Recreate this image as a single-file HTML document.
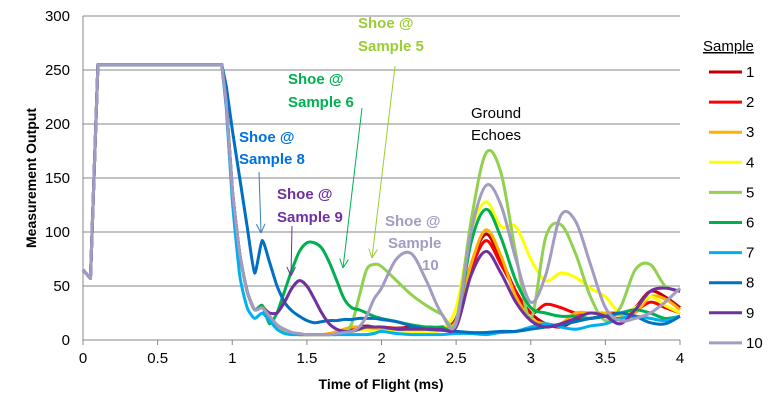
<!DOCTYPE html>
<html><head><meta charset="utf-8"><style>
body{margin:0;background:#fff;}
svg{font-family:"Liberation Sans",Calibri,sans-serif;display:block}
</style></head><body>
<svg id="chart" width="775" height="415" viewBox="0 0 775 415">
<g id="grid"></g><g id="axes"></g><g id="series"></g><g id="annot"></g><g id="legend"></g>
</svg>
<script>
const xs=[0,0.05,0.1,0.93,0.96,1.0,1.05,1.1,1.15,1.2,1.25,1.3,1.35,1.4,1.45,1.5,1.55,1.6,1.65,1.7,1.75,1.8,1.85,1.9,1.95,2.0,2.1,2.2,2.3,2.4,2.5,2.6,2.7,2.8,2.9,3.0,3.1,3.2,3.3,3.4,3.5,3.6,3.7,3.8,3.9,4.0];
const s1=[65,57,255,255,220,140,80,45,28,32,22,14,8,6,5,5,5,5,5,6,8,10,12,13,12,12,11,12,12,12,20,70,98,75,45,25,15,12,18,20,22,20,30,45,40,30];
const s2=[65,57,255,255,220,140,80,45,28,32,22,14,8,6,5,5,5,5,5,6,8,10,11,12,11,10,10,10,12,12,18,65,92,70,45,25,33,30,25,25,25,25,27,35,30,25];
const s3=[65,57,255,255,220,140,80,45,28,32,22,14,8,6,5,5,5,5,6,8,10,12,12,11,10,10,10,10,10,12,18,70,102,78,40,20,15,15,25,25,25,23,25,40,38,28];
const s4=[65,57,255,255,220,140,80,45,28,32,22,14,8,6,5,5,5,5,5,6,7,8,9,9,8,8,8,8,8,10,30,100,128,105,105,75,55,62,58,48,40,25,30,40,32,25];
const s5=[65,57,255,255,220,140,80,45,28,32,22,14,8,6,5,5,5,5,5,5,7,15,40,65,70,68,55,42,32,24,18,110,173,155,80,20,95,107,80,40,18,30,65,70,50,45];
const s6=[65,57,255,255,220,140,80,45,28,32,15,25,45,65,82,90,90,85,72,55,38,30,28,25,22,20,17,14,12,12,15,90,121,95,55,30,25,22,22,20,22,25,28,25,20,22];
const s7=[65,57,255,255,215,130,60,30,20,25,18,10,6,5,5,5,5,5,5,5,5,5,5,5,6,8,6,5,5,5,6,6,5,7,8,12,15,12,10,13,15,20,22,20,18,22];
const s8=[65,57,255,255,235,195,150,105,62,92,72,50,35,27,22,18,16,17,18,18,19,19,20,20,20,19,17,13,10,9,8,7,7,8,8,10,12,14,17,20,22,25,22,16,15,22];
const s9=[65,57,255,255,220,140,80,45,28,30,25,25,35,48,55,50,38,25,15,10,8,8,10,12,12,12,10,10,10,10,12,60,82,62,35,18,12,15,20,25,22,15,28,45,48,45];
const s10=[65,57,255,255,220,140,80,45,28,30,22,14,10,7,6,5,5,5,5,6,7,8,12,22,38,48,75,80,55,25,15,100,143,125,75,35,60,115,110,70,30,18,20,25,35,48];
const seriesVals=[s1,s2,s3,s4,s5,s6,s7,s8,s9,s10];
const seriesNames=["1","2","3","4","5","6","7","8","9","10"];
const colors=["#C00000","#FF0000","#FFB000","#FFFF00","#92D050","#00B050","#00B0F0","#0070C0","#7030A0","#A39CC2"];
const yTicks=[0,50,100,150,200,250,300];
const xTicks=[0,0.5,1,1.5,2,2.5,3,3.5,4];
const X0=83,X1=680,Y0=340,Y1=16;
const sx=t=>X0+(t/4)*(X1-X0);
const sy=v=>Y0-(v/300)*(Y0-Y1);
const NS="http://www.w3.org/2000/svg";
function mk(tag,attrs,parent,text){const e=document.createElementNS(NS,tag);for(const k in attrs)e.setAttribute(k,attrs[k]);if(text!==undefined)e.textContent=text;parent.appendChild(e);return e;}
const G=id=>document.getElementById(id);
yTicks.forEach(v=>{
 if(v>0){const l=mk('line',{x1:X0,x2:X1,y1:sy(v),y2:sy(v),stroke:'#878787','stroke-width':1},G('grid'));
 
 }
 const t=mk('text',{x:70,y:sy(v)+5,'text-anchor':'end','font-size':15,fill:'#000'},G('axes'),String(v));
 
 
});
const ax=mk('path',{d:`M${X0},${Y1}V${Y0}H${X1}`,stroke:'#878787',fill:'none'},G('axes'));


xTicks.forEach(v=>{
 mk('line',{x1:sx(v),x2:sx(v),y1:Y0,y2:Y0+5,stroke:'#878787'},G('axes'));
 const t=mk('text',{x:sx(v),y:363,'text-anchor':'middle','font-size':15},G('axes'),String(v));
 
 
});
const xt=mk('text',{x:381,y:389,'text-anchor':'middle','font-size':14,'font-weight':'bold'},G('axes'),'Time of Flight (ms)');


const yt=mk('text',{x:0,y:0,transform:'translate(36,178) rotate(-90)','text-anchor':'middle','font-size':14,'font-weight':'bold'},G('axes'),'Measurement Output');


function smooth(pts){let d=`M${pts[0][0]},${pts[0][1]}`;for(let i=0;i<pts.length-1;i++){const p0=pts[Math.max(i-1,0)],p1=pts[i],p2=pts[i+1],p3=pts[Math.min(i+2,pts.length-1)];const k=(i<5)?0:(i<12?1/10:1/6);
 d+=` C${p1[0]+(p2[0]-p0[0])*k},${p1[1]+(p2[1]-p0[1])*k} ${p2[0]-(p3[0]-p1[0])*k},${p2[1]-(p3[1]-p1[1])*k} ${p2[0]},${p2[1]}`;}return d;}
seriesVals.forEach((vals,i)=>{
 const pts=vals.map((v,j)=>[sx(xs[j]),sy(v)]);
 const p=mk('path',{d:smooth(pts),stroke:colors[i],'stroke-width':3,fill:'none','stroke-linejoin':'round'},G('series'));
 
 
 const ly=72+i*30.1;
 const g=mk('g',{},G('legend'));
 
 
 mk('line',{x1:709,x2:742,y1:ly,y2:ly,stroke:colors[i],'stroke-width':3},g);
 mk('text',{x:746,y:ly+5,'font-size':15},g,seriesNames[i]);
});
const lt=mk('text',{x:703,y:51,'font-size':15,'text-decoration':'underline'},G('legend'),'Sample');


const notes=[
 ['Shoe @',358,28,'#9ACD32','bold'],['Sample 5',358,51,'#9ACD32','bold'],
 ['Shoe @',288,84,'#00B050','bold'],['Sample 6',288,107,'#00B050','bold'],
 ['Shoe @',239,142,'#0070E0','bold'],['Sample 8',239,164,'#0070E0','bold'],
 ['Shoe @',277,199,'#7030A0','bold'],['Sample 9',277,222,'#7030A0','bold'],
 ['Shoe @',385,226,'#A39CC2','bold'],['Sample',388,248,'#A39CC2','bold'],['10',422,270,'#A39CC2','bold'],
 ['Ground',471,118,'#000','normal'],['Echoes',471,140,'#000','normal']];
notes.forEach(n=>{const t=mk('text',{x:n[1],y:n[2],fill:n[3],'font-weight':n[4],'font-size':15},G('annot'),n[0]);
 
 });
const arrows=[[395,66,372,258,'#9ACD32'],[362,108,343,268,'#00B050'],[259,172,261,233,'#3A7FC0'],[292,226,291,276,'#7030A0']];
arrows.forEach(a=>{const g=mk('g',{stroke:a[4],'stroke-width':1,fill:'none'},G('annot'));
 
 
 mk('line',{x1:a[0],y1:a[1],x2:a[2],y2:a[3]},g);
 const ang=Math.atan2(a[3]-a[1],a[2]-a[0]);const L=10;
 [0.45,-0.45].forEach(o=>mk('line',{x1:a[2],y1:a[3],x2:a[2]-L*Math.cos(ang+o),y2:a[3]-L*Math.sin(ang+o)},g));
});
</script>
</body></html>
